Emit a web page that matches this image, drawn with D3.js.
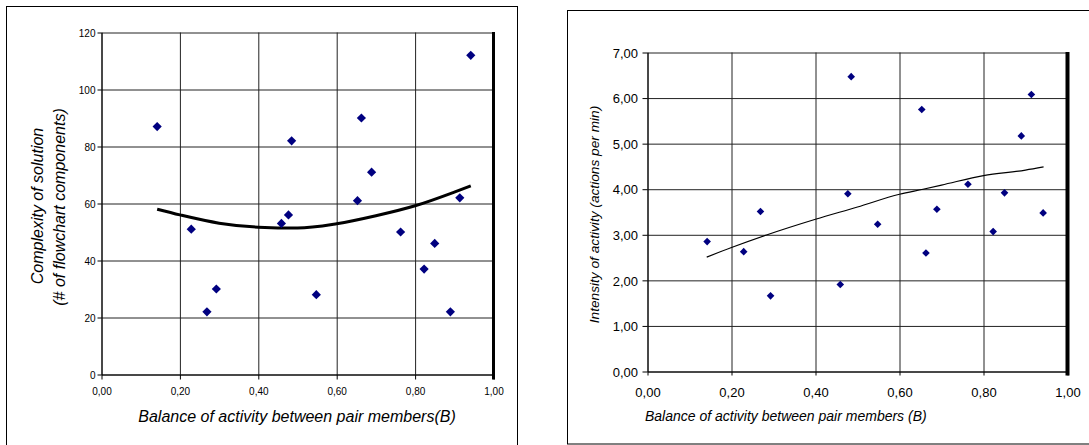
<!DOCTYPE html>
<html><head><meta charset="utf-8">
<script src="https://cdn.jsdelivr.net/npm/d3@7"></script>
<style>
body{margin:0;background:#fff}
svg{display:block}
text{font-family:"Liberation Sans",Arial,sans-serif;fill:#000}
</style>
</head><body>
<svg id="c" width="1089" height="445"></svg>
<script>
// ---- data ----
const balance = [0.142,0.229,0.269,0.293,0.459,0.477,0.485,0.548,0.653,0.663,0.689,0.763,0.823,0.850,0.890,0.914,0.942];
const complexity = [87,51,22,30,53,56,82,28,61,90,71,50,37,46,22,62,112];
const intensity = [2.85,2.63,3.51,1.66,1.91,3.90,6.47,3.23,5.75,2.60,3.56,4.11,3.07,3.92,5.17,6.08,3.48];

const complexityTrendX = [0.142,0.2,0.3,0.4,0.5,0.6,0.7,0.8,0.9,0.942];
const complexityTrendY = [58,56,53.1,51.7,51.4,52.9,55.7,59.2,64,66.2];
const intensityTrendX = [0.141,0.2,0.285,0.4,0.5,0.6,0.656,0.7,0.8,0.9,0.943];
const intensityTrendY = [2.51,2.72,3.0,3.34,3.61,3.89,4.0,4.09,4.30,4.42,4.49];

const xTicks = [0,0.2,0.4,0.6,0.8,1.0];
const complexityTicks = [0,20,40,60,80,100,120];
const intensityTicks = [0,1,2,3,4,5,6,7];

const xTitleLeft = "Balance of activity between pair members(B)";
const yTitleLeft1 = "Complexity of solution";
const yTitleLeft2 = "(# of flowchart components)";
const xTitleRight = "Balance of activity between pair members (B)";
const yTitleRight = "Intensity of activity (actions per min)";

const commaFmt = d => d3.format(".2f")(d).replace(".", ",");

const svg = d3.select("#c");

function drawChart(o){
  const g = svg.append("g");
  // outer frame
  g.append("rect").attr("x",o.frame[0]).attr("y",o.frame[1])
    .attr("width",o.frame[2]-o.frame[0]).attr("height",o.frame[3]-o.frame[1])
    .attr("fill","#fff").attr("stroke","#000").attr("stroke-width",1);

  const x = d3.scaleLinear().domain([0,1]).range([o.x0,o.x1]);
  const y = d3.scaleLinear().domain(o.yDomain).range([o.y0,o.y1]);

  // gridlines
  g.append("g").attr("transform",`translate(0,${o.y0})`)
    .call(d3.axisBottom(x).tickValues(xTicks).tickSize(-(o.y0-o.y1)).tickFormat(""))
    .call(s=>s.select(".domain").remove())
    .call(s=>s.selectAll("line").attr("stroke","#222"));
  g.append("g").attr("transform",`translate(${o.x0},0)`)
    .call(d3.axisLeft(y).tickValues(o.yTicks).tickSize(-(o.x1-o.x0)).tickFormat(""))
    .call(s=>s.select(".domain").remove())
    .call(s=>s.selectAll("line").attr("stroke","#222"));

  // axes
  const xa = g.append("g").attr("transform",`translate(0,${o.y0})`)
    .call(d3.axisBottom(x).tickValues(xTicks).tickSize(o.xTick).tickSizeOuter(0).tickFormat(commaFmt));
  xa.select(".domain").attr("stroke","#000");
  xa.selectAll("line").attr("stroke","#000");
  xa.selectAll("text").attr("y",o.xLabelBase).attr("dy",null)
    .style("font-size",o.tickFont+"px");

  const ya = g.append("g").attr("transform",`translate(${o.x0},0)`)
    .call(d3.axisLeft(y).tickValues(o.yTicks).tickSize(o.yTick).tickSizeOuter(0).tickFormat(o.yFmt));
  ya.select(".domain").attr("stroke","#000");
  ya.selectAll("line").attr("stroke","#000");
  ya.selectAll("text").attr("x",-o.yLabelOff).attr("dy","0.36em")
    .style("font-size",o.tickFont+"px");

  // thick right border
  g.append("line").attr("x1",o.x1).attr("x2",o.x1).attr("y1",o.y1-0.5).attr("y2",o.y0+o.xTick)
    .attr("stroke","#000").attr("stroke-width",o.rightW);

  // trend line
  const line = d3.line().x(d=>x(d[0])).y(d=>y(d[1])).curve(d3.curveMonotoneX);
  g.append("path").datum(d3.zip(o.trendX,o.trendY))
    .attr("d",line).attr("fill","none").attr("stroke","#000")
    .attr("stroke-width",o.trendW).attr("stroke-linejoin","round");

  // points
  const r = o.markR;
  g.append("g").selectAll("path").data(d3.zip(balance,o.values)).join("path")
    .attr("d",d=>{const cx=x(d[0]),cy=y(d[1]);return `M${cx},${cy-r}L${cx+r},${cy}L${cx},${cy+r}L${cx-r},${cy}Z`;})
    .attr("fill","#000080");

  return g;
}

const gl = drawChart({
  frame:[6.5,6.5,517.5,450],
  x0:101.5,x1:493.5,y0:374.5,y1:32.5,
  yDomain:[0,120],yTicks:complexityTicks,yFmt:d3.format("d"),
  xTick:5,yTick:4,xLabelBase:20,yLabelOff:6,tickFont:10,rightW:3,
  trendX:complexityTrendX,trendY:complexityTrendY,trendW:3,
  values:complexity,markR:4.6
});
gl.append("text").attr("x",297).attr("y",421.7).attr("text-anchor","middle")
  .style("font-size","16px").style("font-style","italic").text(xTitleLeft);
gl.append("text").attr("transform","translate(37,206) rotate(-90)").attr("text-anchor","middle")
  .attr("dy","0.36em").style("font-size","16px").style("font-style","italic").text(yTitleLeft1);
gl.append("text").attr("transform","translate(59,207) rotate(-90)").attr("text-anchor","middle")
  .attr("dy","0.36em").style("font-size","16px").style("font-style","italic").text(yTitleLeft2);

const gr = drawChart({
  frame:[567.5,10.5,1100,444],
  x0:647.5,x1:1067.5,y0:371.5,y1:52.5,
  yDomain:[0,7],yTicks:intensityTicks,yFmt:commaFmt,
  xTick:4,yTick:5,xLabelBase:25,yLabelOff:9.5,tickFont:13,rightW:4,
  trendX:intensityTrendX,trendY:intensityTrendY,trendW:1.2,
  values:intensity,markR:3.8
});
gr.append("text").attr("x",645).attr("y",420.7).attr("text-anchor","start")
  .style("font-size","14px").style("font-style","italic").text(xTitleRight);
gr.append("text").attr("transform","translate(594,214.5) rotate(-90)").attr("text-anchor","middle")
  .attr("dy","0.36em").style("font-size","13.7px").style("font-style","italic").text(yTitleRight);
</script>
</body></html>
